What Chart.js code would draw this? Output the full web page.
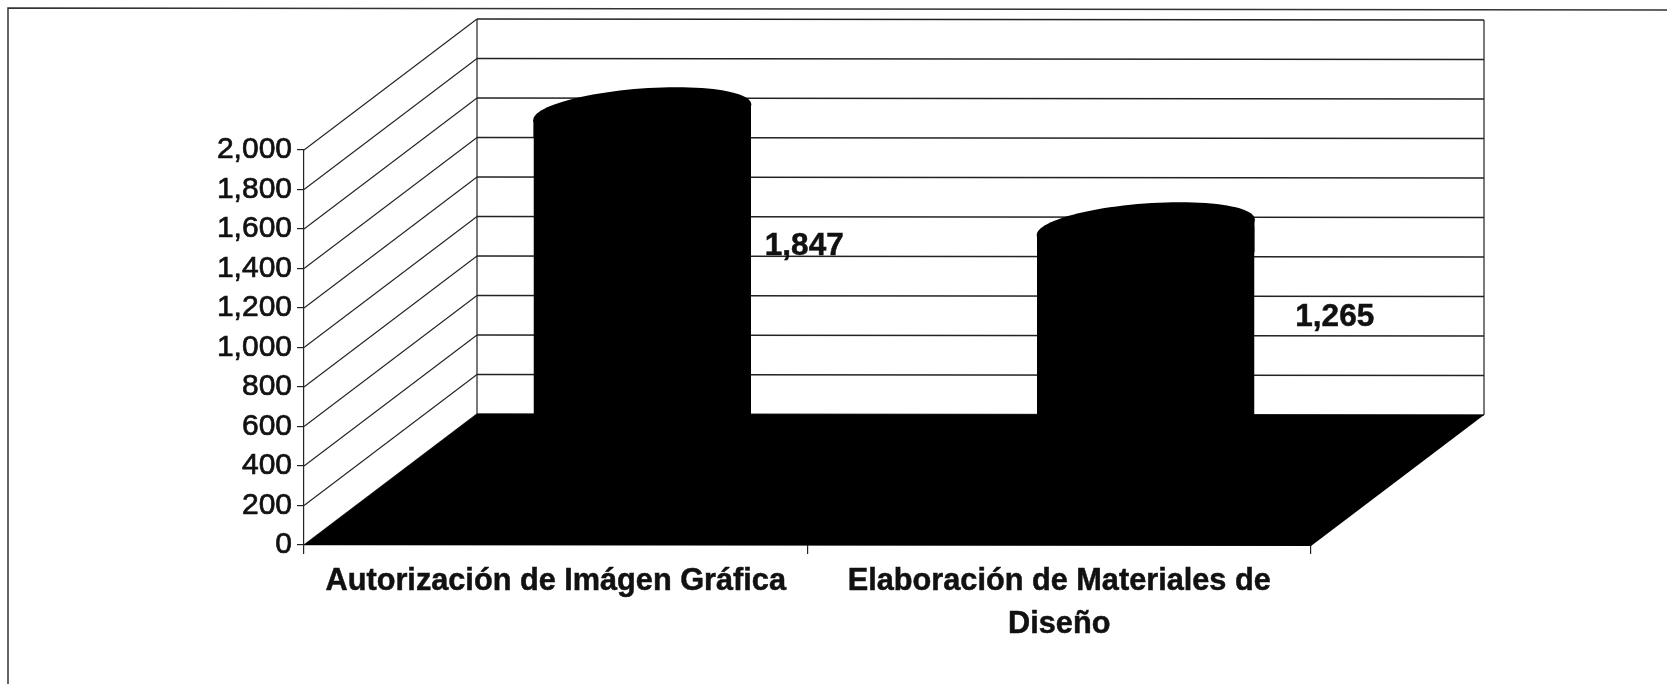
<!DOCTYPE html>
<html>
<head>
<meta charset="utf-8">
<style>html,body{margin:0;padding:0;background:#fff}canvas{display:block}</style>
<script src="https://cdn.jsdelivr.net/npm/chart.js@4"></script>
</head>
<body>
<canvas id="c" width="1667" height="684"></canvas>
<script>
const categories = [['Autorización de Imágen Gráfica'], ['Elaboración de Materiales de', 'Diseño']];
const seriesValues = [1847, 1265];
const valueLabels = ['1,847', '1,265'];
const yMax = 2000;
const yStep = 200;

const fontName = '"Liberation Sans", Arial, sans-serif';
const depth = {x: 173, y: -131};
const barShift = {x: 86.5, y: -68};
const labelShift = [{x: 162, y: 66}, {x: 189, y: 22}];
const cap = {u: 103.6, a: 34, b: 25};

function shoulder() {
  const d = cap.a / cap.u;
  return cap.b * d / Math.sqrt(1 + d * d);
}

const pseudo3d = {
  id: 'pseudo3d',
  beforeDatasetsDraw(chart) {
    const {ctx, scales: {x, y}, chartArea: a} = chart;
    ctx.save();
    // page frame
    ctx.strokeStyle = '#333'; ctx.lineWidth = 1.5;
    ctx.beginPath(); ctx.moveTo(8, 684); ctx.lineTo(8, 8); ctx.lineTo(1667, 10); ctx.stroke();
    // walls
    ctx.strokeStyle = '#222';
    const backL = a.left + depth.x, backR = a.right + depth.x;
    y.ticks.forEach((t, i) => {
      const py = y.getPixelForTick(i);
      ctx.lineWidth = 1.1;
      ctx.beginPath();
      ctx.moveTo(a.left, py);
      ctx.lineTo(backL, py + depth.y);
      ctx.stroke();
      ctx.lineWidth = 1.6;
      ctx.beginPath();
      ctx.moveTo(backL, py + depth.y);
      ctx.lineTo(backR, py + depth.y + 1);
      ctx.stroke();
    });
    ctx.lineWidth = 1.2;
    ctx.beginPath();
    ctx.moveTo(backL, y.getPixelForValue(yMax) + depth.y);
    ctx.lineTo(backL, y.getPixelForValue(0) + depth.y);
    ctx.moveTo(backR, y.getPixelForValue(yMax) + depth.y + 1);
    ctx.lineTo(backR, y.getPixelForValue(0) + depth.y + 1);
    ctx.stroke();
    // floor
    const y0 = y.getPixelForValue(0);
    ctx.fillStyle = '#000';
    ctx.beginPath();
    ctx.moveTo(a.left, y0);
    ctx.lineTo(backL, y0 + depth.y);
    ctx.lineTo(backR, y0 + depth.y + 1);
    ctx.lineTo(a.right, y0 + 1);
    ctx.closePath(); ctx.fill();
    ctx.restore();

    // bars sit half way back on the floor; silhouette clip for the cylinder shoulders
    ctx.save();
    ctx.translate(barShift.x, barShift.y);
    const el = chart.getDatasetMeta(0).data;
    const sh = shoulder();
    ctx.beginPath();
    el.forEach(b => {
      const L = b.x - b.width / 2, R = b.x + b.width / 2;
      ctx.moveTo(L, b.base);
      ctx.lineTo(L, b.y + sh);
      ctx.lineTo(b.x + cap.a, b.y - cap.b);
      ctx.lineTo(R, b.y - sh);
      ctx.lineTo(R, b.base);
      ctx.closePath();
    });
    ctx.clip();
  },
  afterDatasetsDraw(chart) {
    const {ctx} = chart;
    const el = chart.getDatasetMeta(0).data;
    ctx.restore();
    ctx.save();
    ctx.translate(barShift.x, barShift.y);
    ctx.fillStyle = '#000';
    const sh = shoulder();
    el.forEach(b => {
      const L = b.x - b.width / 2, R = b.x + b.width / 2;
      // cap ellipse
      ctx.beginPath();
      for (let i = 0; i <= 96; i++) {
        const t = i / 96 * Math.PI * 2;
        const px = b.x + cap.u * Math.cos(t) + cap.a * Math.sin(t);
        const py = b.y - cap.b * Math.sin(t);
        if (i) ctx.lineTo(px, py); else ctx.moveTo(px, py);
      }
      ctx.closePath(); ctx.fill();
      // close the side walls up to the shoulders
      ctx.beginPath();
      ctx.moveTo(L, b.y + sh);
      ctx.lineTo(R, b.y - sh);
      ctx.lineTo(R, b.y + cap.b);
      ctx.lineTo(L, b.y + cap.b);
      ctx.closePath(); ctx.fill();
    });
    ctx.restore();
    // value labels
    ctx.save();
    ctx.fillStyle = '#111';
    ctx.strokeStyle = '#111';
    ctx.lineWidth = 0.5;
    ctx.font = 'bold 31.5px ' + fontName;
    ctx.textAlign = 'center'; ctx.textBaseline = 'middle';
    el.forEach((b, i) => {
      const tx = b.x + barShift.x + labelShift[i].x, ty = b.y + labelShift[i].y;
      ctx.fillText(valueLabels[i], tx, ty);
      ctx.strokeText(valueLabels[i], tx, ty);
    });
    ctx.restore();
  }
};

new Chart(document.getElementById('c'), {
  type: 'bar',
  data: {
    labels: categories,
    datasets: [{
      data: seriesValues,
      backgroundColor: '#000',
      borderWidth: 0,
      barPercentage: 0.432,
      categoryPercentage: 1,
      clip: false
    }]
  },
  plugins: [pseudo3d],
  options: {
    responsive: false,
    animation: false,
    layout: {padding: {top: 150, right: 356, left: 0, bottom: 0}},
    plugins: {legend: {display: false}, tooltip: {enabled: false}, title: {display: false}},
    scales: {
      x: {
        type: 'category',
        offset: true,
        afterFit(s) { s.height = 139; },
        border: {display: true, color: '#222', width: 1.2},
        grid: {display: true, offset: true, drawOnChartArea: false, drawTicks: true, tickLength: 9, color: '#222', lineWidth: 1.2},
        ticks: {
          color: '#111', autoSkip: false, maxRotation: 0, minRotation: 0, padding: 7,
          textStrokeColor: '#111', textStrokeWidth: 0.5,
          font: {family: fontName, size: 30.7, weight: 'bold', lineHeight: 1.37}
        }
      },
      y: {
        min: 0, max: yMax,
        afterFit(s) { s.width = 304; },
        border: {display: true, color: '#222', width: 1.2},
        grid: {display: true, drawOnChartArea: false, drawTicks: true, tickLength: 7, color: '#222', lineWidth: 1.2},
        ticks: {
          stepSize: yStep, color: '#111', padding: 5,
          textStrokeColor: '#111', textStrokeWidth: 0.7,
          font: {family: fontName, size: 30},
          callback: v => v.toLocaleString('en-US')
        }
      }
    }
  }
});
</script>
</body>
</html>
